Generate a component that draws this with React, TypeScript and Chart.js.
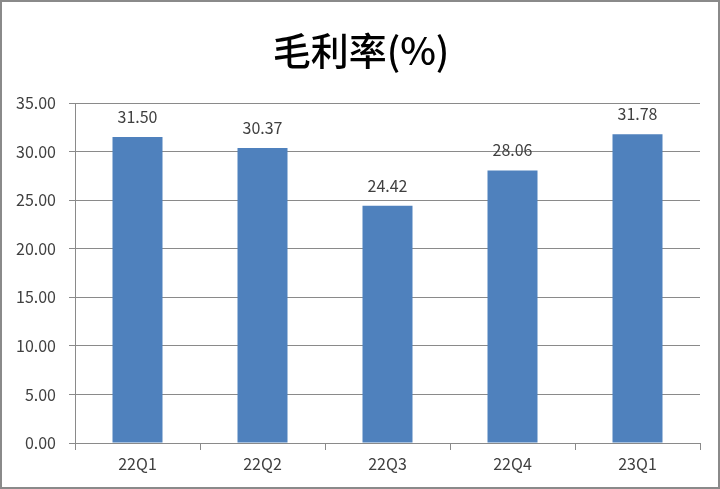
import React, { useEffect, useRef } from "react";
import { Chart, registerables } from "chart.js";
Chart.register(...registerables);

const titleText = "毛利率(%)";
const categories = ["22Q1", "22Q2", "22Q3", "22Q4", "23Q1"];
const values = [31.5, 30.37, 24.42, 28.06, 31.78];
const yMin = 0;
const yMax = 35;
const yStep = 5;

const FONT = "'Noto Sans CJK TC', 'Noto Sans', sans-serif";

const labelPlugin = {
  id: "labels",
  afterDatasetsDraw(chart: any) {
    const ctx = chart.ctx;
    const meta = chart.getDatasetMeta(0);
    ctx.save();
    ctx.font = `16px ${FONT}`;
    ctx.fillStyle = "#404040";
    ctx.textAlign = "center";
    ctx.textBaseline = "middle";
    meta.data.forEach((el: any, i: number) => {
      ctx.fillText(values[i].toFixed(2), el.x, el.y - 20);
    });
    ctx.restore();
  },
  afterDraw(chart: any) {
    const ctx = chart.ctx;
    ctx.save();
    ctx.font = `500 38px ${FONT}`;
    ctx.fillStyle = "#000";
    ctx.textAlign = "center";
    ctx.textBaseline = "middle";
    ctx.fillText(titleText, 359, 49);
    ctx.restore();
  },
};

export default function App() {
  const ref = useRef<HTMLCanvasElement>(null);
  useEffect(() => {
    document.body.style.margin = "0";
    const chart = new Chart(ref.current!, {
      type: "bar",
      data: {
        labels: categories,
        datasets: [
          {
            data: values,
            backgroundColor: "#4F81BD",
            barPercentage: 0.4,
            categoryPercentage: 1,
          },
        ],
      },
      options: {
        animation: false,
        responsive: false,
        maintainAspectRatio: false,
        layout: { padding: { left: 0, right: 18, top: 101, bottom: 0 } },
        plugins: { legend: { display: false }, tooltip: { enabled: false }, title: { display: false } },
        scales: {
          x: {
            grid: {
              offset: true,
              drawOnChartArea: false,
              drawTicks: true,
              tickLength: 7,
              color: "#8a8a8a",
            },
            border: { color: "#8a8a8a" },
            ticks: { font: { family: FONT, size: 16 }, color: "#404040", padding: 4 },
            afterFit: (s: any) => { s.height = 44; },
          },
          y: {
            min: yMin,
            max: yMax,
            grid: { color: "#8a8a8a", tickLength: 6 },
            border: { color: "#8a8a8a" },
            ticks: {
              stepSize: yStep,
              font: { family: FONT, size: 16 },
              color: "#404040",
              padding: 13,
              callback: (v: any) => Number(v).toFixed(2),
            },
            afterFit: (s: any) => { s.width = 73; },
          },
        },
      },
      plugins: [labelPlugin],
    });
    return () => chart.destroy();
  }, []);
  return (
    <div style={{ width: 720, height: 489, boxSizing: "border-box", border: "2px solid #8a8a8a", background: "#fff" }}>
      <canvas ref={ref} width={716} height={485} style={{ display: "block" }} />
    </div>
  );
}
